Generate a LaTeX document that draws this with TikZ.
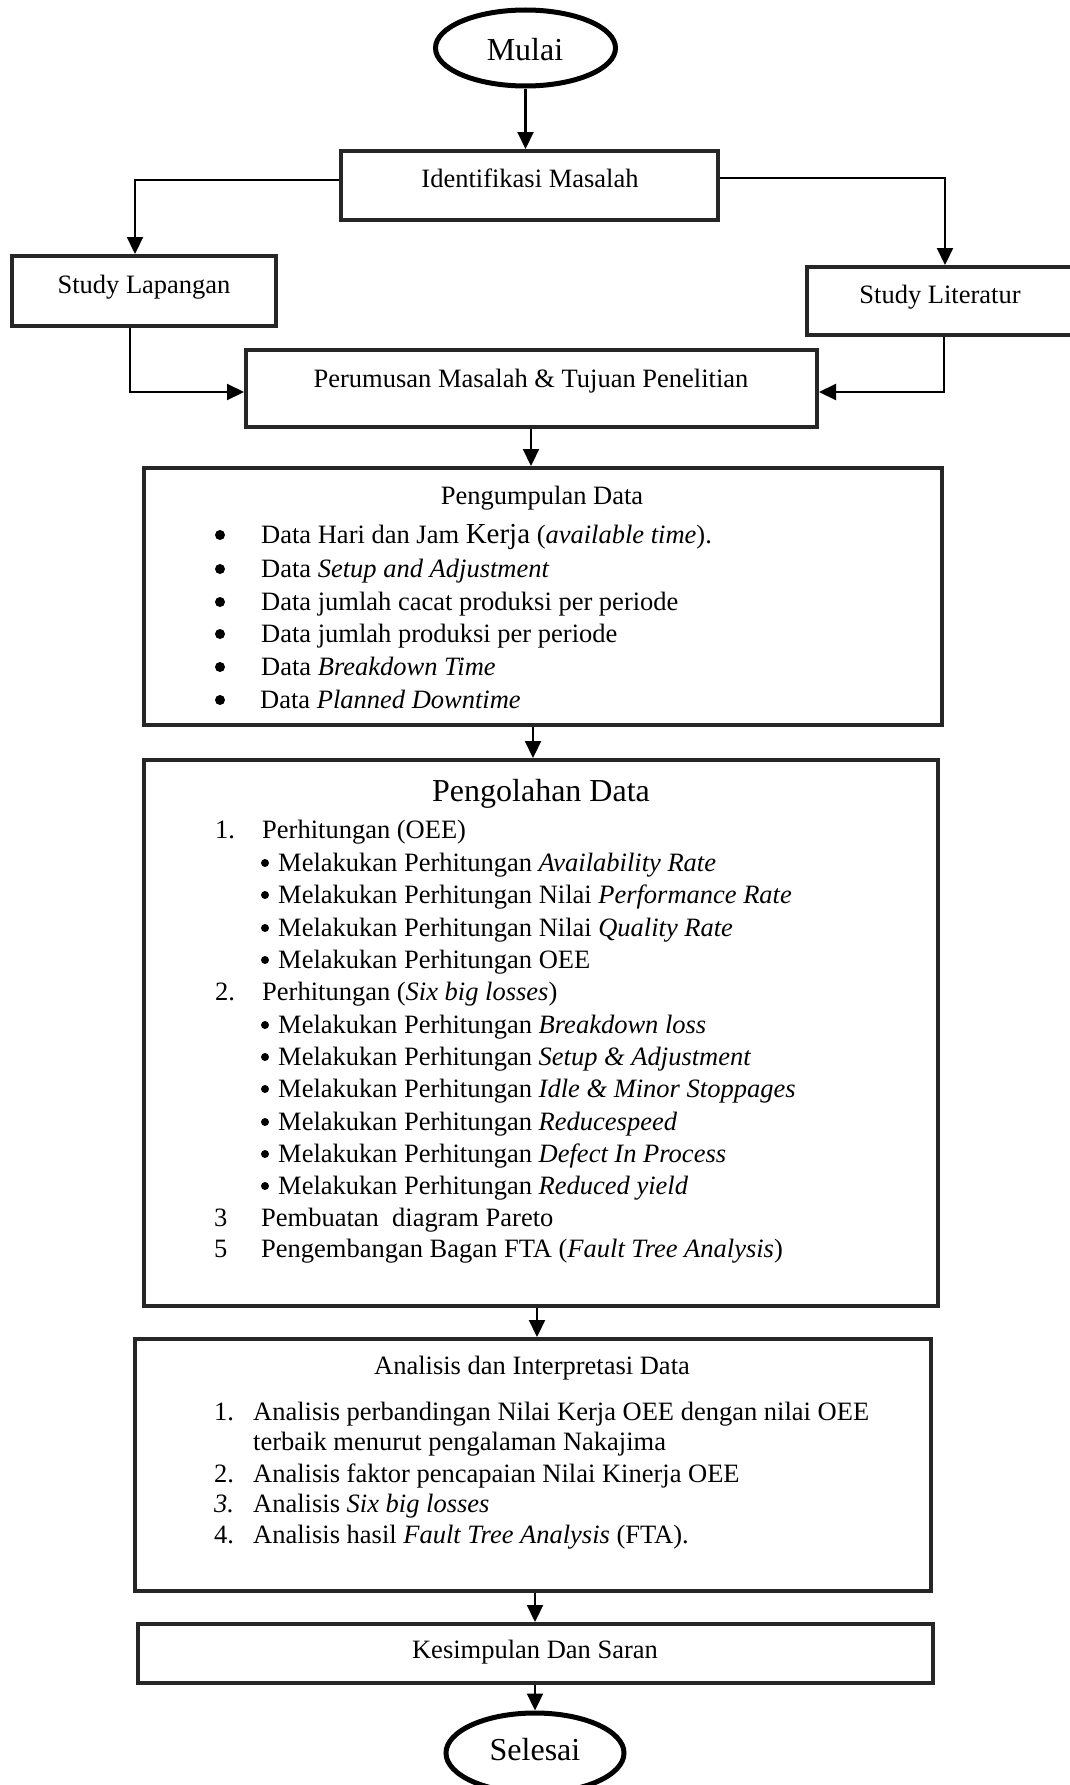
\documentclass[tikz,border=0pt]{standalone}
\usepackage{fontspec}
\setmainfont{Liberation Serif}
\usetikzlibrary{arrows.meta,shapes.geometric,calc}
\newcommand\nfs{\fontsize{26.5}{32}\selectfont}
\newcommand\bfsz{\fontsize{32}{38}\selectfont}
\begin{document}
\begin{tikzpicture}[x=1pt,y=-1pt,
  box/.style={draw=black!85,line width=4pt,rectangle,inner sep=0pt,fill=white},
  oval/.style={draw=black,line width=5pt,ellipse,inner sep=0pt,fill=white},
  conn/.style={line width=2.2pt,-{Triangle[length=17pt,width=16pt]}},
  txt/.style={inner sep=0pt,font=\nfs},
  big/.style={inner sep=0pt,font=\bfsz},
  bigdot/.style={circle,fill=black,inner sep=0pt,minimum size=10pt},
  smalldot/.style={circle,fill=black,inner sep=0pt,minimum size=8pt}]
\useasboundingbox[fill=white] (0,0) rectangle (1070,1785);

% shapes
\node[oval,minimum width=180pt,minimum height=76pt] (mulai) at (525.5,48) {};
\node[box,minimum width=377pt,minimum height=69pt] (iden) at (529.5,185.5) {};
\node[box,minimum width=264pt,minimum height=70pt] (stlap) at (144,291) {};
\node[box,minimum width=273pt,minimum height=68pt] (stlit) at (943.5,301) {};
\node[box,minimum width=571pt,minimum height=77pt] (perum) at (531.5,388.5) {};
\node[box,minimum width=798pt,minimum height=257pt] (kump) at (543,596.5) {};
\node[box,minimum width=794pt,minimum height=546pt] (olah) at (541,1033) {};
\node[box,minimum width=796pt,minimum height=252pt] (anal) at (533,1465) {};
\node[box,minimum width=795pt,minimum height=59pt] (kes) at (535.5,1653.5) {};
\node[oval,minimum width=178pt,minimum height=80pt] (sel) at (535,1753) {};

% connectors
\coordinate (lb) at (135,180);
\coordinate (rb) at (945,178);
\coordinate (lb2) at (130,392);
\coordinate (rb2) at (944,392);
\coordinate (a1) at (531,0);
\coordinate (a2) at (533,0);
\coordinate (a3) at (537,0);
\coordinate (a4) at (535,0);
\draw[conn] (mulai.south) -- (mulai.south |- iden.north);
\draw[conn] (iden.west |- lb) -- (lb) -- (lb |- stlap.north);
\draw[conn] (iden.east |- rb) -- (rb) -- (rb |- stlit.north);
\draw[conn] (stlap.south -| lb2) -- (lb2) -- (lb2 -| perum.west);
\draw[conn] (stlit.south -| rb2) -- (rb2) -- (rb2 -| perum.east);
\draw[conn] (perum.south -| a1) -- (a1 |- kump.north);
\draw[conn] (kump.south -| a2) -- (a2 |- olah.north);
\draw[conn] (olah.south -| a3) -- (a3 |- anal.north);
\draw[conn] (anal.south -| a4) -- (a4 |- kes.north);
\draw[conn] (kes.south -| a4) -- (a4 |- sel.north);

% texts
\node[big,anchor=base] (tmulai) at (525,60) {Mulai};
\node[txt,anchor=base] (tiden) at (530,187) {Identifikasi Masalah};
\node[txt,anchor=base] (tstlap) at (144,293) {Study Lapangan};
\node[txt,anchor=base] (tstlit) at (940,303) {Study Literatur};
\node[txt,anchor=base] (tperum) at (531,387) {Perumusan Masalah \& Tujuan Penelitian};

\node[txt,anchor=base] (tkump) at (542,504) {Pengumpulan Data};
\node[bigdot] (kb1) at (220,535) {};
\node[bigdot] (kb2) at (220,569) {};
\node[bigdot] (kb3) at (220,602) {};
\node[bigdot] (kb4) at (220,634) {};
\node[bigdot] (kb5) at (220,667) {};
\node[bigdot] (kb6) at (220,700) {};
\node[txt,anchor=base west] (k1) at (261,543) {Data Hari dan Jam {\fontsize{29}{34}\selectfont Kerja} (\textit{available time}).};
\node[txt,anchor=base west] (k2) at (261,577) {Data \textit{Setup and Adjustment}};
\node[txt,anchor=base west] (k3) at (261,610) {Data jumlah cacat produksi per periode};
\node[txt,anchor=base west] (k4) at (261,642) {Data jumlah produksi per periode};
\node[txt,anchor=base west] (k5) at (261,675) {Data \textit{Breakdown Time}};
\node[txt,anchor=base west] (k6) at (260,708) {Data \textit{Planned Downtime}};

\node[big,anchor=base] (tolah) at (541,801) {Pengolahan Data};
\node[txt,anchor=base west] (on1) at (215,838) {1.};
\node[txt,anchor=base west] (o1) at (262,838) {Perhitungan (OEE)};
\node[smalldot] (ob2) at (265,863) {};
\node[smalldot] (ob3) at (265,895) {};
\node[smalldot] (ob4) at (265,928) {};
\node[smalldot] (ob5) at (265,960) {};
\node[smalldot] (ob7) at (265,1025) {};
\node[smalldot] (ob8) at (265,1057) {};
\node[smalldot] (ob9) at (265,1089) {};
\node[smalldot] (ob10) at (265,1122) {};
\node[smalldot] (ob11) at (265,1154) {};
\node[smalldot] (ob12) at (265,1186) {};
\node[txt,anchor=base west] (o2) at (278,871) {Melakukan Perhitungan \textit{Availability Rate}};
\node[txt,anchor=base west] (o3) at (278,903) {Melakukan Perhitungan Nilai \textit{Performance Rate}};
\node[txt,anchor=base west] (o4) at (278,936) {Melakukan Perhitungan Nilai \textit{Quality Rate}};
\node[txt,anchor=base west] (o5) at (278,968) {Melakukan Perhitungan OEE};
\node[txt,anchor=base west] (on2) at (215,1000) {2.};
\node[txt,anchor=base west] (o6) at (262,1000) {Perhitungan (\textit{Six big losses})};
\node[txt,anchor=base west] (o7) at (278,1033) {Melakukan Perhitungan \textit{Breakdown loss}};
\node[txt,anchor=base west] (o8) at (278,1065) {Melakukan Perhitungan \textit{Setup \& Adjustment}};
\node[txt,anchor=base west] (o9) at (278,1097) {Melakukan Perhitungan \textit{Idle \& Minor Stoppages}};
\node[txt,anchor=base west] (o10) at (278,1130) {Melakukan Perhitungan \textit{Reducespeed}};
\node[txt,anchor=base west] (o11) at (278,1162) {Melakukan Perhitungan \textit{Defect In Process}};
\node[txt,anchor=base west] (o12) at (278,1194) {Melakukan Perhitungan \textit{Reduced yield}};
\node[txt,anchor=base west] (on3) at (214,1226) {3};
\node[txt,anchor=base west] (o13) at (261,1226) {Pembuatan\ \ diagram Pareto};
\node[txt,anchor=base west] (on5) at (214,1257) {5};
\node[txt,anchor=base west] (o14) at (261,1257) {Pengembangan Bagan FTA (\textit{Fault Tree Analysis})};

\node[txt,anchor=base] (tanal) at (532,1374) {Analisis dan Interpretasi Data};
\node[txt,anchor=base west] (an1) at (214,1420) {1.};
\node[txt,anchor=base west] (a1t) at (253,1420) {Analisis perbandingan Nilai Kerja OEE dengan nilai OEE};
\node[txt,anchor=base west] (a1u) at (253,1450) {terbaik menurut pengalaman Nakajima};
\node[txt,anchor=base west] (an2) at (214,1482) {2.};
\node[txt,anchor=base west] (a2t) at (253,1482) {Analisis faktor pencapaian Nilai Kinerja OEE};
\node[txt,anchor=base west] (an3) at (214,1512) {\textit{3.}};
\node[txt,anchor=base west] (a3t) at (253,1512) {Analisis \textit{Six big losses}};
\node[txt,anchor=base west] (an4) at (214,1543) {4.};
\node[txt,anchor=base west] (a4t) at (253,1543) {Analisis hasil \textit{Fault Tree Analysis} (FTA).};

\node[txt,anchor=base] (tkes) at (535,1658) {Kesimpulan Dan Saran};
\node[big,anchor=base] (tsel) at (535,1760) {Selesai};
\end{tikzpicture}
\end{document}
